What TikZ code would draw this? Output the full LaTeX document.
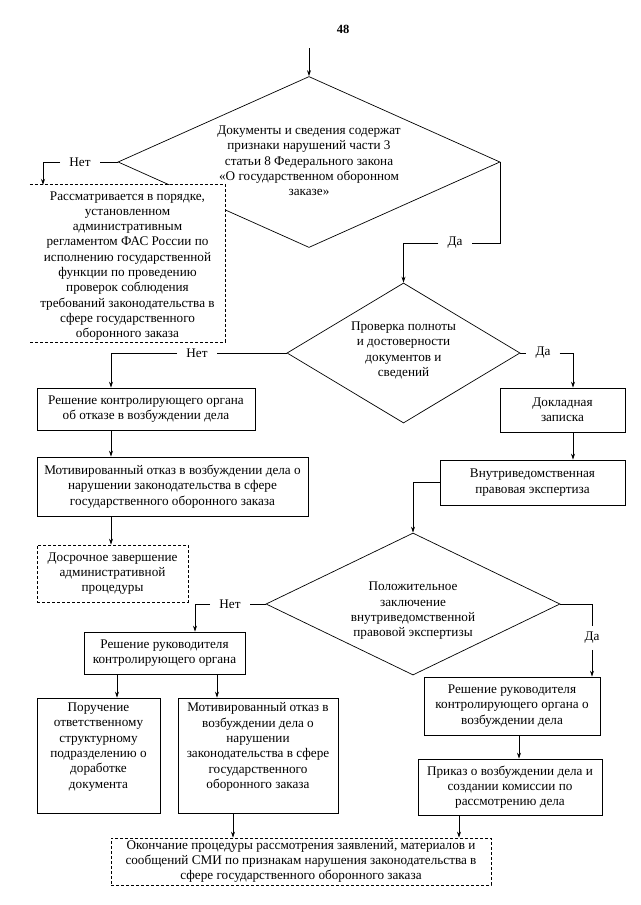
\documentclass[tikz,border=0pt]{standalone}
\usepackage{fontspec}
\setmainfont{Liberation Serif}
\usetikzlibrary{shapes.geometric,arrows.meta,calc}
\begin{document}
\begin{tikzpicture}[x=1pt,y=1pt,
  every node/.style={font=\fontsize{13.2}{15.3}\selectfont, align=center, inner sep=0pt},
  box/.style={draw, line width=0.8pt, rectangle, fill=white},
  dashline/.style={line width=0.7pt, dash pattern=on 3pt off 2pt},
  dbox/.style={draw, dashline, rectangle, fill=white},
  dia/.style={draw, diamond, line width=0.7pt, inner sep=0pt},
  conn/.style={line width=0.7pt},
  arr/.style={conn, -{Stealth[length=6pt,width=4pt]}},
  lbl/.style={inner xsep=9pt, inner ysep=5pt}]
\useasboundingbox (0,0) rectangle (640,-905);

% page number
\node[font=\bfseries\fontsize{12.5}{14}\selectfont] (pg) at (343,-29) {48};

% helper x positions
\coordinate (x43) at (43,0);
\coordinate (x111) at (111,0);
\coordinate (x117) at (117,0);
\coordinate (x195) at (195,0);
\coordinate (x217) at (217,0);
\coordinate (x233) at (233,0);
\coordinate (x459) at (459,0);
\coordinate (x519) at (519,0);
\coordinate (x573) at (573,0);

% diamond 1
\node[dia, minimum width=382pt, minimum height=171pt] (d1) at (309,-162) {};
\node (t1) at (309,-161) {Документы и сведения содержат\\признаки нарушений части 3\\статьи 8 Федерального закона\\«О государственном оборонном\\заказе»};
\coordinate (s0) at (309,-48);

% dashed box 1 (three sides, white fill hides the diamond edge)
\node[fill=white, minimum width=195pt, minimum height=157pt] (b1) at (127.5,-263.5) {};
\draw[dashline] (b1.north west) -- (b1.north east) -- (b1.south east) -- (b1.south west);
\node (t1b) at (127.5,-266) {Рассматривается в порядке,\\установленном\\административным\\регламентом ФАС России по\\исполнению государственной\\функции по проведению\\проверок соблюдения\\требований законодательства в\\сфере государственного\\оборонного заказа};

% diamond 2
\node[dia, minimum width=233pt, minimum height=140pt] (d2) at (403.5,-353) {};
\node (t2) at (403.5,-350.5) {Проверка полноты\\и достоверности\\документов и\\сведений};

% left branch boxes
\node[box, minimum width=218pt, minimum height=42pt] (b3) at (146,-409) {Решение контролирующего органа\\об отказе в возбуждении дела};
\node[box, minimum width=271pt, minimum height=59pt] (b4) at (172.5,-486.5) {Мотивированный отказ в возбуждении дела о\\нарушении законодательства в сфере\\государственного оборонного заказа};
\node[dbox, minimum width=151pt, minimum height=57pt] (b5) at (112.5,-573.5) {Досрочное завершение\\административной\\процедуры};

% right branch boxes
\node[box, minimum width=125pt, minimum height=44pt] (b6) at (562.5,-410) {Докладная\\записка};
\node[box, minimum width=185pt, minimum height=45pt] (b7) at (532.5,-482.5) {Внутриведомственная\\правовая экспертиза};

% diamond 3
\node[dia, minimum width=294pt, minimum height=142pt] (d3) at (413,-604) {};
\node (t3) at (413,-611) {Положительное\\заключение\\внутриведомственной\\правовой экспертизы};

\node[box, minimum width=161pt, minimum height=42pt] (b8) at (164.5,-653) {Решение руководителя\\контролирующего органа};
\node[box, minimum width=123pt, minimum height=115pt] (b9a) at (98.5,-755.5) {};
\node (t9a) at (98.5,-747) {Поручение\\ответственному\\структурному\\подразделению о\\доработке\\документа};
\node[box, minimum width=160pt, minimum height=115pt] (b9b) at (258,-755.5) {};
\node (t9b) at (258,-747) {Мотивированный отказ в\\возбуждении дела о\\нарушении\\законодательства в сфере\\государственного\\оборонного заказа};

\node[box, minimum width=176pt, minimum height=58pt] (b10) at (512,-706) {Решение руководителя\\контролирующего органа о\\возбуждении дела};
\node[box, minimum width=184pt, minimum height=56pt] (b11) at (510,-787) {Приказ о возбуждении дела и\\создании комиссии по\\рассмотрению дела};

\node[dbox, minimum width=380pt, minimum height=47pt] (fin) at (301,-861.5) {Окончание процедуры рассмотрения заявлений, материалов и\\сообщений СМИ по признакам нарушения законодательства в\\сфере государственного оборонного заказа};

% labels
\node[lbl] (nl1) at (80,-162) {Нет};
\node[lbl] (yl1) at (455,-243) {Да};
\node[lbl] (nl2) at (197,-353) {Нет};
\node[lbl] (yl2) at (543,-353) {Да};
\node[lbl] (nl3) at (230,-604) {Нет};
\node[inner xsep=4pt, inner ysep=6pt] (yl3) at (592,-638) {Да};

% connectors
\draw[arr] (s0) -- (d1.north);
\draw[conn] (d1.west) -- (nl1.east);
\draw[arr] (nl1.west) -| (b1.north -| x43);
\draw[conn] (d1.east) |- (yl1.east);
\draw[arr] (yl1.west) -| (d2.north);

\draw[conn] (d2.west) -- (nl2.east);
\draw[arr] (nl2.west) -| (b3.north -| x111);
\draw[arr] (b3.south -| x111) -- (b4.north -| x111);
\draw[arr] (b4.south -| x111) -- (b5.north -| x111);

\draw[conn] (d2.east) -- (yl2.west);
\draw[arr] (yl2.east) -| (b6.north -| x573);
\draw[arr] (b6.south -| x573) -- (b7.north -| x573);
\draw[arr] (b7.west) -| (d3.north);

\draw[conn] (d3.west) -- (nl3.east);
\draw[arr] (nl3.west) -| (b8.north -| x195);
\draw[conn] (d3.east) -| (yl3.north);
\draw[arr] (yl3.south) -- (b10.north -| yl3);

\draw[arr] (b8.south -| x117) -- (b9a.north -| x117);
\draw[arr] (b8.south -| x217) -- (b9b.north -| x217);
\draw[arr] (b10.south -| x519) -- (b11.north -| x519);
\draw[arr] (b9b.south -| x233) -- (fin.north -| x233);
\draw[arr] (b11.south -| x459) -- (fin.north -| x459);
\end{tikzpicture}
\end{document}
